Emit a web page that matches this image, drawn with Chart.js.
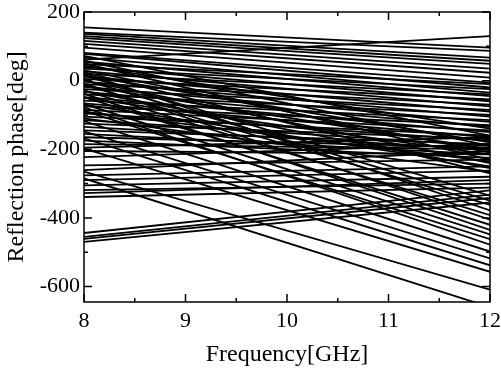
<!DOCTYPE html>
<html>
<head>
<meta charset="utf-8">
<script src="https://cdn.jsdelivr.net/npm/chart.js@4"></script>
<style>
  html, body { margin: 0; padding: 0; background: #fff; }
  #wrap { width: 501px; height: 369px; }
</style>
</head>
<body>
<div id="wrap"><canvas id="chart"></canvas></div>
<script>
// frequency span of every trace [GHz]
const freqs = [8, 12];

// phase at 8 GHz and at 12 GHz for each trace [deg]
const phaseStart = [
  155, 61, 140, 136, 130, 124, 116, 107, 96, 81, 78, 67, 55, 48, 40, 35, 28, 20, 12, 5,
  -3, -10, -18, -25, -33, -40, -48, -58, -66, -75, -85, -95, -105, -115, -125, -135, -145, -155, -165, -175,
  72, 58, 44, 30, 15, 0, -15, -30, 50, -50, -70, -90, 25, -110,
  15, 2, -12, 22, -28, -8, -48, -38, -68, -88, -78, -118, -148, -168, -198, -265, -285,
  -185, -195, -205, -223, -247, -261, -276, -290, -305, -319, -328, -339,
  -444, -455, -461, -470
];
const phaseEnd = [
  96, 130, 87, 67, 58, 49, 35, 23, 9, -6, -20, -35, -45, -10, -60, -25, -75, -40, -90, -55,
  -105, -70, -120, -85, -135, -100, -150, -115, -165, -130, -145, -175, -160, -190, -170, -200, -185, -215, -195, -225,
  -160, -190, -140, -210, -180, -240, -200, -255, -230, -215, -250, -235, -270, -265,
  -335, -350, -362, -378, -392, -405, -420, -435, -448, -462, -478, -498, -518, -538, -557, -609, -660,
  -200, -165, -215, -185, -230, -205, -250, -262, -280, -300, -290, -312,
  -320, -332, -342, -355
];

// axis ticks
const xMajor = [8, 9, 10, 11, 12];
const xMinor = [8.5, 9.5, 10.5, 11.5];
const yMajor = [-600, -400, -200, 0, 200];
const yMinor = [-500, -300, -100, 100];

const serif = 'Liberation Serif, Times New Roman, serif';

const datasets = phaseStart.map((s, i) => ({
  data: [{ x: freqs[0], y: s }, { x: freqs[1], y: phaseEnd[i] }],
  borderColor: '#000',
  borderWidth: 1.8,
  pointRadius: 0,
  tension: 0,
  fill: false
}));

// frame + inward ticks on all four sides
const framePlugin = {
  id: 'frame',
  afterDatasetsDraw(chart) {
    const { ctx, chartArea: a, scales } = chart;
    const xs = scales.x, ys = scales.y;
    ctx.save();
    ctx.strokeStyle = '#000';
    ctx.lineWidth = 1.5;
    ctx.beginPath();
    const tick = (vals, len, horiz) => {
      vals.forEach(v => {
        if (horiz) {
          const px = xs.getPixelForValue(v);
          ctx.moveTo(px, a.bottom); ctx.lineTo(px, a.bottom - len);
          ctx.moveTo(px, a.top); ctx.lineTo(px, a.top + len);
        } else {
          const py = ys.getPixelForValue(v);
          ctx.moveTo(a.left, py); ctx.lineTo(a.left + len, py);
          ctx.moveTo(a.right, py); ctx.lineTo(a.right - len, py);
        }
      });
    };
    tick(xMajor, 8, true);
    tick(xMinor, 4, true);
    tick(yMajor, 8, false);
    tick(yMinor, 4, false);
    ctx.stroke();
    ctx.strokeRect(a.left, a.top, a.right - a.left, a.bottom - a.top);
    ctx.restore();
  }
};

new Chart(document.getElementById('chart'), {
  type: 'line',
  data: { datasets: datasets },
  plugins: [framePlugin],
  options: {
    responsive: true,
    maintainAspectRatio: false,
    animation: false,
    layout: { padding: { top: 12, right: 11, bottom: 0, left: 0 } },
    plugins: { legend: { display: false }, tooltip: { enabled: false } },
    scales: {
      x: {
        type: 'linear',
        min: 8,
        max: 12,
        afterBuildTicks: s => { s.ticks = xMajor.map(v => ({ value: v })); },
        afterFit: s => { s.height = 67; },
        grid: { display: false, drawTicks: false },
        border: { display: false },
        ticks: { color: '#000', padding: 0, font: { family: serif, size: 22, lineHeight: 1.73 } },
        title: { display: true, text: 'Frequency[GHz]', color: '#000', padding: 0,
                 font: { family: serif, size: 24 } }
      },
      y: {
        type: 'linear',
        min: -645,
        max: 200,
        afterBuildTicks: s => { s.ticks = yMajor.map(v => ({ value: v })); },
        afterFit: s => { s.width = 84; },
        grid: { display: false, drawTicks: false },
        border: { display: false },
        ticks: { color: '#000', padding: 4, font: { family: serif, size: 22, lineHeight: 0.7 } },
        title: { display: true, text: 'Reflection phase[deg]', color: '#000', padding: 2,
                 font: { family: serif, size: 24 } }
      }
    }
  }
});
</script>
</body>
</html>
